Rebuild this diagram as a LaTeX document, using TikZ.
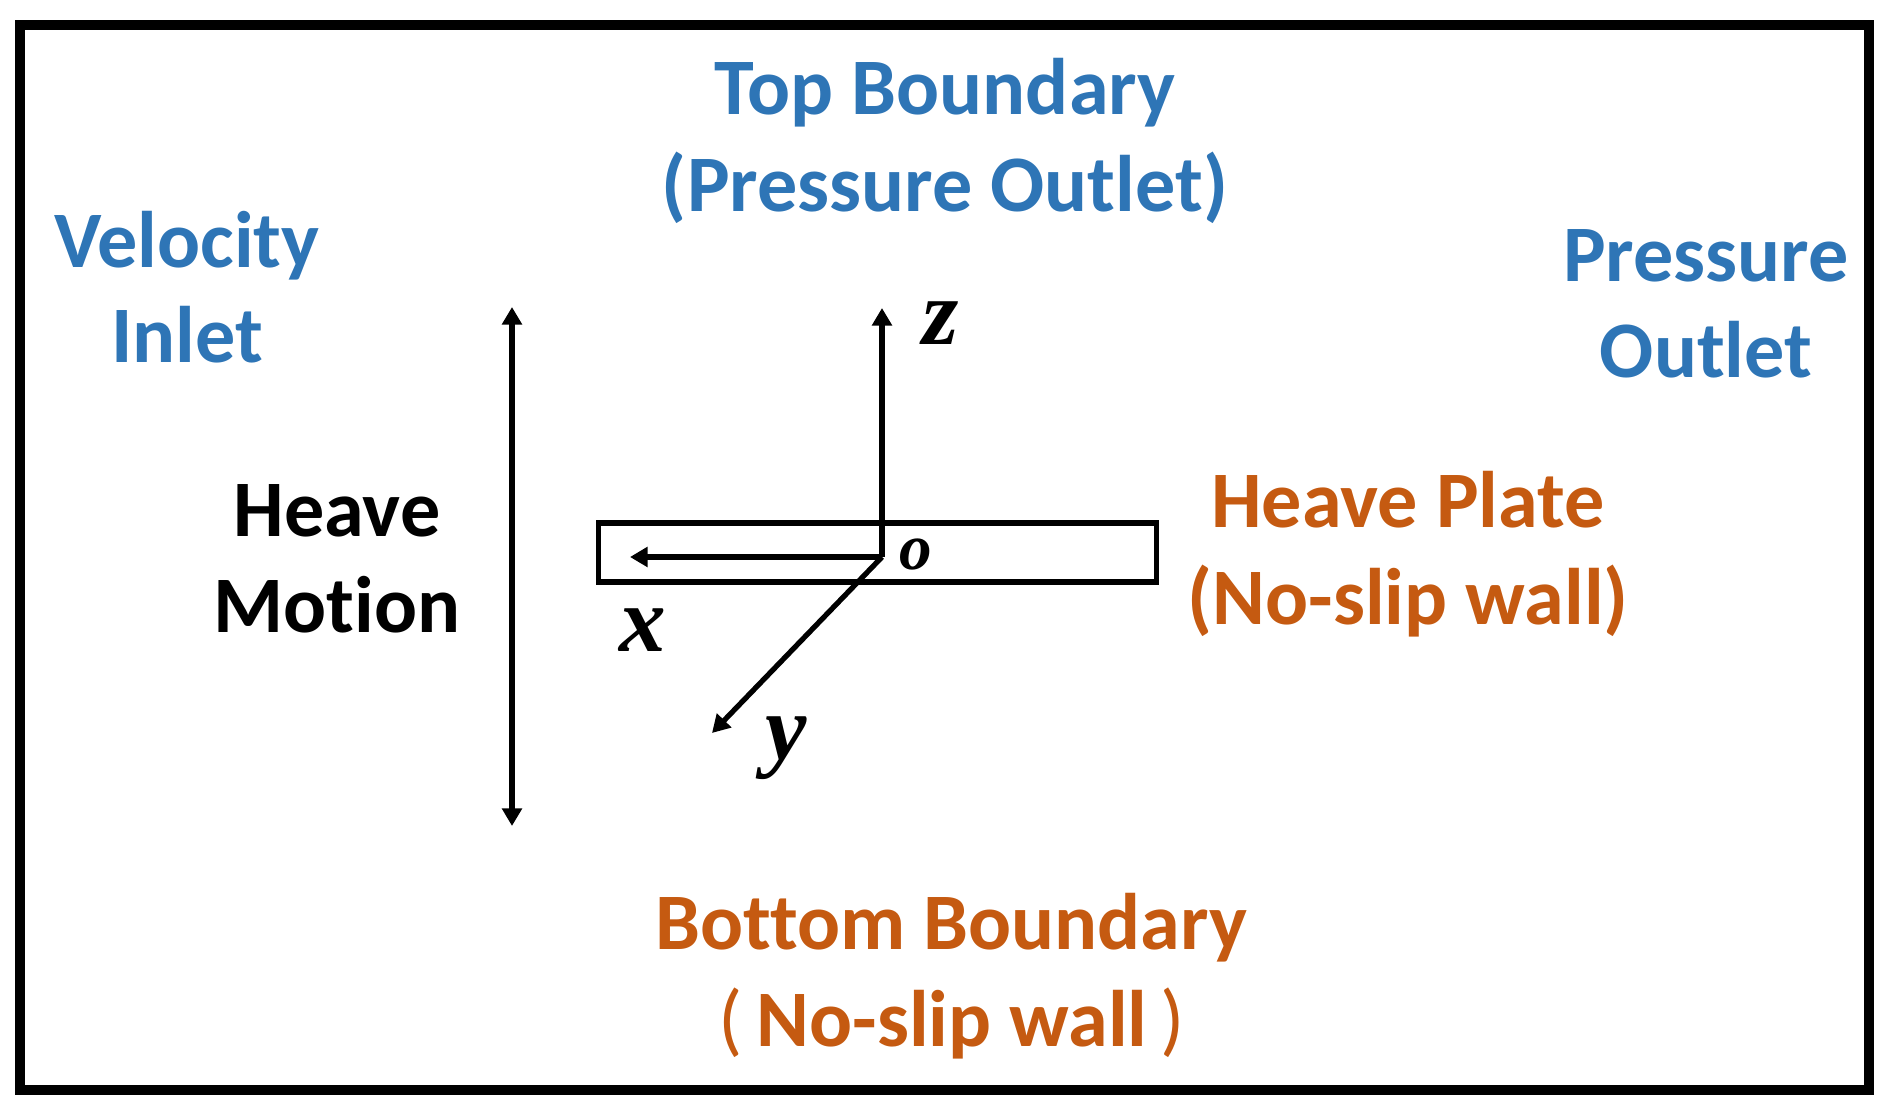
\documentclass[tikz,border=0pt]{standalone}
\usepackage{fontspec}
\setmainfont[Ligatures=NoCommon]{Carlito}
\newfontfamily\axisfont{Liberation Serif}
\usetikzlibrary{arrows.meta}
\definecolor{bdblue}{HTML}{2E75B6}
\definecolor{bdorange}{HTML}{C55A11}
\begin{document}
\begin{tikzpicture}[x=0.01cm,y=-0.01cm,
  lbl/.style={font=\fontsize{22.8}{27.6}\selectfont\bfseries, inner sep=0pt, anchor=base},
  bluelbl/.style={lbl,text=bdblue},
  orangelbl/.style={lbl,text=bdorange},
  blacklbl/.style={lbl,text=black},
  axislbl/.style={font=\axisfont\fontsize{26.5}{30}\selectfont\bfseries\itshape, inner sep=0pt, anchor=base},
  originlbl/.style={font=\axisfont\fontsize{18.5}{22}\selectfont\bfseries\itshape, inner sep=0pt, anchor=base},
  axisline/.style={line width=1.5pt, -{Triangle[length=5pt,width=5.5pt]}},
  heavearrow/.style={line width=1.5pt, {Triangle[length=5pt,width=5.5pt]}-{Triangle[length=5pt,width=5.5pt]}},
  platebox/.style={draw, line width=1.5pt, minimum width=5.57cm, minimum height=0.59cm, inner sep=0pt},
  frame/.style={draw, line width=2.7pt}
]
\useasboundingbox (0,0) rectangle (1890,1119);
\draw[frame] (20,25) rectangle (1869,1090);

% labels
\node[bluelbl] (topA) at (945,115) {Top Boundary};
\node[bluelbl] (topB) at (945,212) {(Pressure Outlet)};
\node[bluelbl] (velA) at (187,268) {Velocity};
\node[bluelbl] (velB) at (187,363) {Inlet};
\node[bluelbl] (presA) at (1706,282) {Pressure};
\node[bluelbl] (presB) at (1706,378) {Outlet};
\node[blacklbl] (heaveA) at (337,537) {Heave};
\node[blacklbl] (heaveB) at (337,633) {Motion};
\node[orangelbl] (plateA) at (1408,528) {Heave Plate};
\node[orangelbl] (plateB) at (1408,625) {(No-slip wall)};
\node[orangelbl] (botA) at (951,950) {Bottom Boundary};
\node[orangelbl] (botB) at (952,1047) {{\mdseries(}\,No-slip wall\,{\mdseries)}};

% plate
\node[platebox] (plate) at (877.5,552.5) {};

% axes
\coordinate (O) at (882,557);
\coordinate (ztip) at (882,308);
\coordinate (xtip) at (630,557);
\coordinate (ytip) at (712,733);
\draw[axisline] (O) -- (ztip);
\draw[axisline] (O) -- (xtip);
\draw[axisline] (O) -- (ytip);
\node[axislbl] (zl) at (941,345) {z};
\node[axislbl] (xl) at (643,652) {x};
\node[axislbl] (yl) at (786,760) {y};
\node[originlbl] (ol) at (916,570) {o};

% heave motion arrow
\coordinate (hvtop) at (512,307);
\coordinate (hvbot) at (512,826);
\draw[heavearrow] (hvbot) -- (hvtop);
\end{tikzpicture}
\end{document}
